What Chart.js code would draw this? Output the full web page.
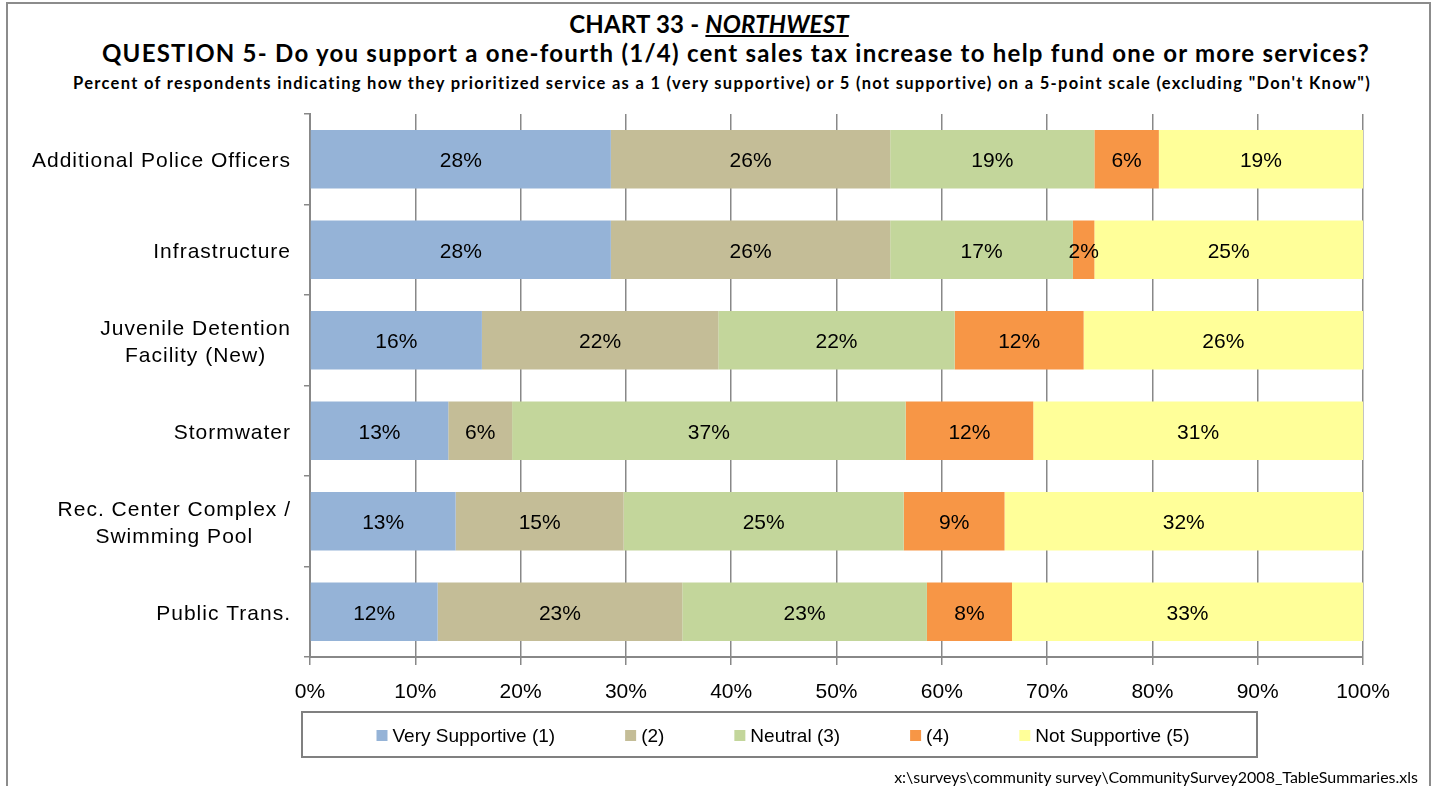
<!DOCTYPE html>
<html>
<head>
<meta charset="utf-8">
<title>Chart 33 - Northwest</title>
<script src="https://cdn.jsdelivr.net/npm/chart.js@4.4.1/dist/chart.umd.min.js"></script>
<style>
  body { margin: 0; background: #fff; }
  .page { position: relative; width: 1440px; height: 786px; overflow: hidden; font-family: Lato, "Open Sans", sans-serif; }
  .frame { position: absolute; left: 6px; top: 2px; width: 1425px; height: 820px; border: 2px solid #8c8c8c; box-sizing: border-box; }
  .t { position: absolute; white-space: nowrap; font-weight: bold; color: #000; transform: translateX(-50%); }
  #t1 { left: 709px; top: 9px; font-size: 24px; letter-spacing: 0.2px; }
  #t1 em { text-decoration: underline; }
  #t2 { left: 736px; top: 38px; font-size: 24px; letter-spacing: 1.25px; }
  #t3 { left: 722px; top: 73px; font-size: 16.5px; letter-spacing: 1.3px; }
  #foot { position: absolute; right: 22px; top: 767px; font-size: 16px; white-space: nowrap; }
  canvas { position: absolute; left: 0; top: 0; }
</style>
</head>
<body>
<div class="page">
  <div class="frame"></div>
  <div class="t" id="t1">CHART 33 - <em>NORTHWEST</em></div>
  <div class="t" id="t2">QUESTION 5- Do you support a one-fourth (1/4) cent sales tax increase to help fund one or more services?</div>
  <div class="t" id="t3">Percent of respondents indicating how they prioritized service as a 1 (very supportive) or 5 (not supportive) on a 5-point scale (excluding "Don't Know")</div>
  <canvas id="Chart" width="1440" height="786"></canvas>
  <div id="foot">x:\surveys\community survey\CommunitySurvey2008_TableSummaries.xls</div>
</div>
<script>
// services, top to bottom
let categories = [
    ['Additional Police Officers'],
    ['Infrastructure'],
    ['Juvenile Detention', 'Facility (New)'],
    ['Stormwater'],
    ['Rec. Center Complex /', 'Swimming Pool'],
    ['Public Trans.']
];
let seriesNames = ['Very Supportive (1)', '(2)', 'Neutral (3)', '(4)', 'Not Supportive (5)'];
let seriesColors = ['#95B3D7', '#C4BD97', '#C3D69B', '#F79646', '#FFFF99'];

// percent of respondents per rating
let verySupportive = [28, 28, 16, 13, 13, 12];
let rating2 = [26, 26, 22, 6, 15, 23];
let neutral = [19, 17, 22, 37, 25, 23];
let rating4 = [6, 2, 12, 12, 9, 8];
let notSupportive = [19, 25, 26, 31, 32, 33];

let xTickStep = 10;

let series = [verySupportive, rating2, neutral, rating4, notSupportive];
// 100% stacked: each row scaled to its own total
let rowTotals = categories.map((c, i) => series.reduce((t, s) => t + s[i], 0));

const FONT = '"Liberation Sans", Arial, sans-serif';

// category labels: lines centred on each other, block right-aligned to the axis
const yLabels = {
    id: 'yLabels',
    afterDraw(chart) {
        let ctx = chart.ctx;
        let s = chart.scales.y;
        ctx.save();
        ctx.font = '21px ' + FONT;
        ctx.letterSpacing = '1px';
        ctx.fillStyle = '#000';
        ctx.textAlign = 'center';
        ctx.textBaseline = 'middle';
        let right = s.right - 19;
        categories.forEach((lines, i) => {
            let w = Math.max(...lines.map(l => ctx.measureText(l).width));
            let y = s.getPixelForValue(i);
            lines.forEach((l, k) => {
                ctx.fillText(l, right - w / 2, y + 2 + (k - (lines.length - 1) / 2) * 27);
            });
        });
        ctx.restore();
    }
};

// value inside each segment
const barLabels = {
    id: 'barLabels',
    afterDatasetsDraw(chart) {
        let ctx = chart.ctx;
        ctx.save();
        ctx.font = '21px ' + FONT;
        ctx.fillStyle = '#000';
        ctx.textAlign = 'center';
        ctx.textBaseline = 'middle';
        chart.data.datasets.forEach((ds, di) => {
            chart.getDatasetMeta(di).data.forEach((bar, i) => {
                let p = bar.getCenterPoint();
                ctx.fillText(ds.values[i] + '%', p.x, p.y + 2);
            });
        });
        ctx.restore();
    }
};

// boxed legend under the axis
const boxLegend = {
    id: 'boxLegend',
    afterDraw(chart) {
        let ctx = chart.ctx;
        let box = { left: 302, top: 712, right: 1257, bottom: 757 };
        let sq = 11, gap = 5, spacing = 70, centre = 783;
        ctx.save();
        ctx.strokeStyle = '#808080';
        ctx.lineWidth = 2;
        ctx.strokeRect(box.left, box.top, box.right - box.left, box.bottom - box.top);
        ctx.font = '19px ' + FONT;
        ctx.textBaseline = 'middle';
        ctx.textAlign = 'left';
        let items = chart.data.datasets.map(ds => ({
            text: ds.label, color: ds.backgroundColor, w: ctx.measureText(ds.label).width
        }));
        let total = items.reduce((t, it) => t + sq + gap + it.w, 0) + spacing * (items.length - 1);
        let x = centre - total / 2;
        let y = (box.top + box.bottom) / 2 + 1;
        items.forEach(it => {
            ctx.fillStyle = it.color;
            ctx.fillRect(x, y - sq / 2, sq, sq);
            ctx.fillStyle = '#000';
            ctx.fillText(it.text, x + sq + gap, y + 1);
            x += sq + gap + it.w + spacing;
        });
        ctx.restore();
    }
};

let ctx = document.getElementById('Chart').getContext('2d');

new Chart(ctx, {
    type: 'bar',
    data: {
        labels: categories.map(c => c.join(' ')),
        datasets: series.map((s, k) => ({
            label: seriesNames[k],
            values: s,
            data: s.map((v, i) => v / rowTotals[i] * 100),
            backgroundColor: seriesColors[k],
            borderWidth: 0,
            barPercentage: 0.645,
            categoryPercentage: 1
        }))
    },
    options: {
        indexAxis: 'y',
        responsive: false,
        animation: false,
        layout: { padding: { left: 0, top: 114, right: 77, bottom: 69 } },
        plugins: {
            legend: { display: false },
            tooltip: { enabled: false }
        },
        scales: {
            x: {
                stacked: true,
                min: 0,
                max: 100,
                ticks: {
                    stepSize: xTickStep,
                    callback: v => v + '%',
                    color: '#000',
                    font: { family: FONT, size: 21 },
                    padding: 15
                },
                grid: { color: '#888', lineWidth: 1.5, tickLength: 8 },
                border: { color: '#888', width: 2 },
                afterFit(scale) { scale.height = 60; }
            },
            y: {
                stacked: true,
                offset: true,
                ticks: { display: false },
                grid: { offset: true, drawOnChartArea: false, color: '#888', lineWidth: 1.5, tickLength: 6 },
                border: { color: '#888', width: 2 },
                afterFit(scale) { scale.width = 310; }
            }
        }
    },
    plugins: [barLabels, yLabels, boxLegend]
});
</script>
</body>
</html>
